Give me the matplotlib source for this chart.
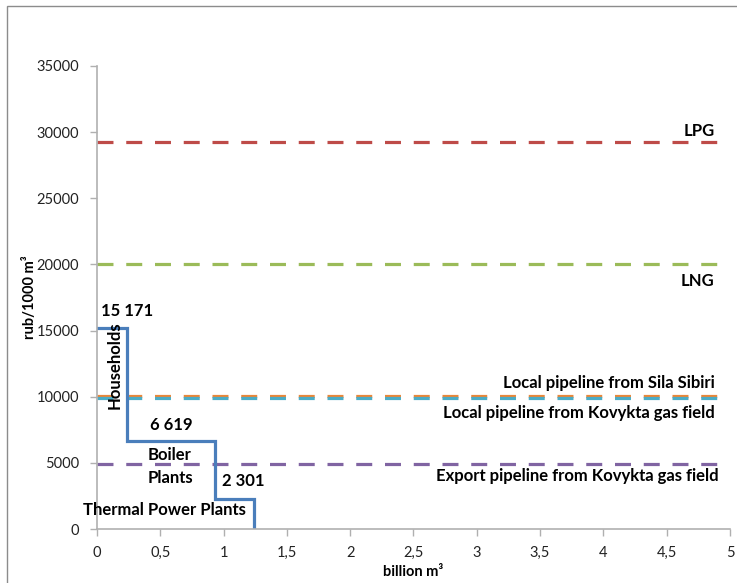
import matplotlib.pyplot as plt
from matplotlib.patches import Rectangle

plt.rcParams['font.family'] = ['Lato', 'DejaVu Sans']

# demand steps (billion m3 -> rub/1000 m3)
step_x = [0, 0.24, 0.24, 0.93, 0.93, 1.24, 1.24]
step_y = [15171, 15171, 6619, 6619, 2301, 2301, 0]

# supply alternatives
alt_names = ["LPG", "LNG", "Local pipeline from Sila Sibiri",
             "Local pipeline from Kovykta gas field",
             "Export pipeline from Kovykta gas field"]
alt_prices = [29250, 20000, 10080, 9880, 4880]
alt_colors = ["#BE4B48", "#9BBB59", "#E8873A", "#4BACC6", "#8064A2"]
# label placement: (x right edge, y centre)
alt_label_pos = [(4.88, 30100), (4.88, 18750), (4.88, 11020), (4.88, 8750), (4.91, 3980)]

xticks = [0, 0.5, 1, 1.5, 2, 2.5, 3, 3.5, 4, 4.5, 5]
yticks = list(range(0, 35001, 5000))

fig = plt.figure(figsize=(7.37, 5.83), dpi=100)
ax = fig.add_axes([0.1316, 0.0926, 0.8589, 0.7942])

lw = 2.3
for price, color in zip(alt_prices, alt_colors):
    ax.plot([0, 5], [price, price], color=color, lw=lw, dashes=(5.0, 4.0),
            solid_capstyle='butt', dash_capstyle='butt')
ax.plot(step_x, step_y, color="#4A7EBB", lw=lw, solid_joinstyle='miter')

bold = dict(fontsize=12, fontweight='bold', color='black')
for name, (tx, ty) in zip(alt_names, alt_label_pos):
    ax.text(tx, ty, name, ha='right', va='center', **bold)

ax.text(0.237, 16480, "15 171", ha='center', va='center', **bold)
ax.text(0.142, 12390, "Households", ha='center', va='center', rotation=90, **bold)
ax.text(0.585, 7840, "6 619", ha='center', va='center', **bold)
ax.text(0.40, 5570, "Boiler", ha='left', va='center', **bold)
ax.text(0.40, 3830, "Plants", ha='left', va='center', **bold)
ax.text(1.153, 3600, "2 301", ha='center', va='center', **bold)
ax.text(0.53, 1400, "Thermal Power Plants", ha='center', va='center', **bold)

ax.set_xlim(0, 5)
ax.set_ylim(0, 35000)
ax.set_xticks(xticks)
ax.set_xticklabels([f"{v:g}".replace('.', ',') for v in xticks])
ax.set_yticks(yticks)
ax.set_yticklabels([str(v) for v in yticks])
ax.tick_params(labelsize=10.5, colors='#B0B0B0', labelcolor='#222222', length=5, width=1)
ax.tick_params(axis='x', pad=7)
ax.tick_params(axis='y', pad=8)
for side in ('top', 'right'):
    ax.spines[side].set_visible(False)
for side in ('left', 'bottom'):
    ax.spines[side].set_color('#B0B0B0')
    ax.spines[side].set_linewidth(1.2)

ax.set_xlabel("billion m³", fontsize=10.5, fontweight='bold')
ax.set_ylabel("rub/1000 m³", fontsize=10.5, fontweight='bold')
ax.xaxis.set_label_coords(0.5, -0.078)
ax.yaxis.set_label_coords(-0.094, 0.5)

fig.patches.append(Rectangle((7 / 737, -0.1), 1.2, 1 - 6 / 583 + 0.1,
                             transform=fig.transFigure, fill=False,
                             edgecolor='#8C8C8C', lw=1))

fig.savefig("out.png", dpi=100)
